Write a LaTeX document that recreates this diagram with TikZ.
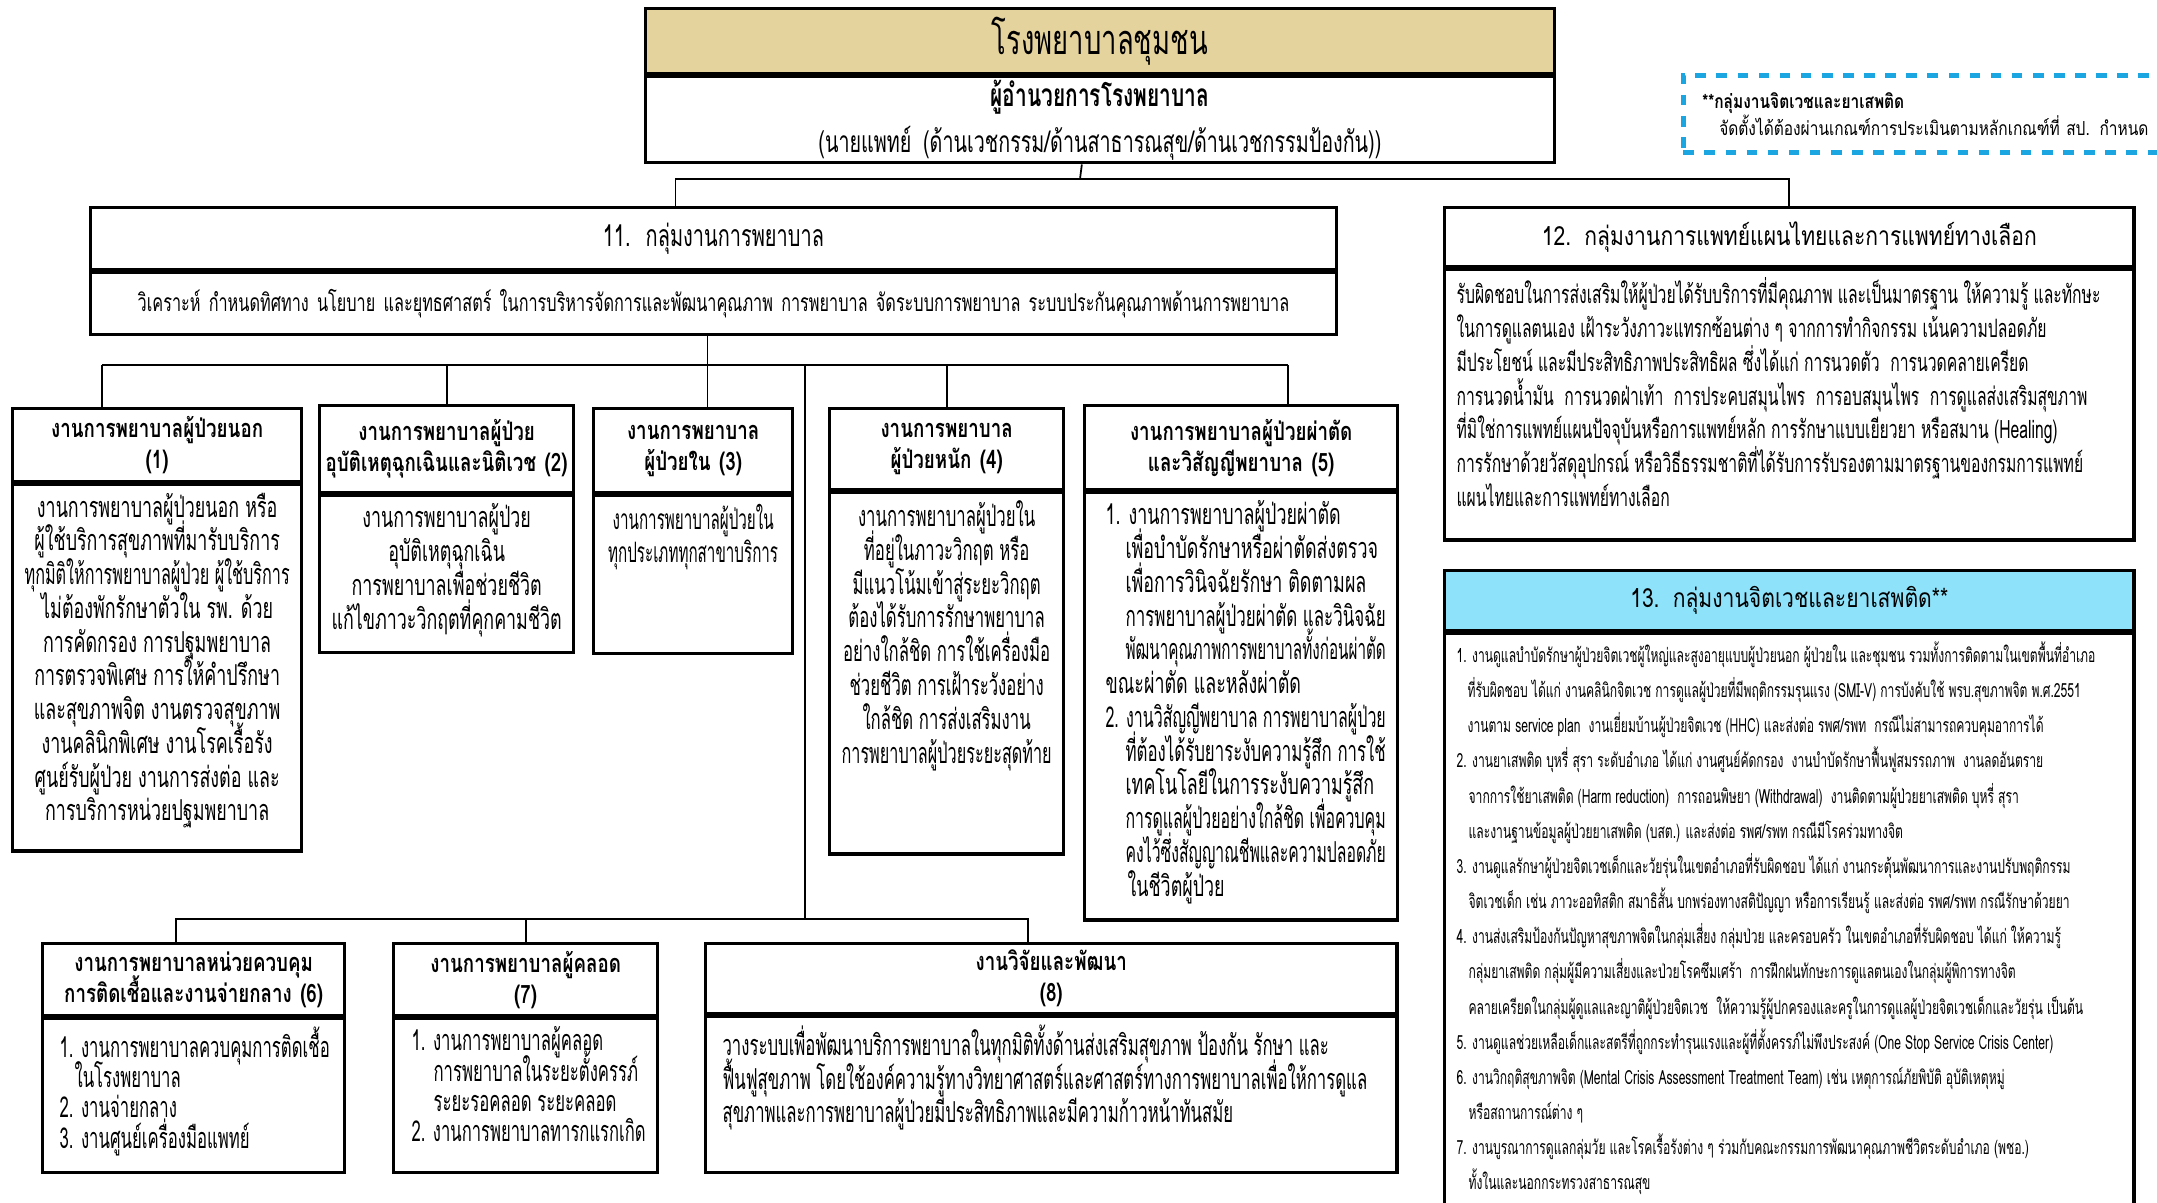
\documentclass[tikz,border=0pt]{standalone}
\usepackage{fontspec}
\usepackage{graphicx}
\newfontfamily\thaiA[Script=Thai,FakeStretch=0.62]{Loma}
\newfontfamily\thaiB[Script=Thai,FakeStretch=0.54]{Loma}
\newfontfamily\thaiC[Script=Thai,FakeStretch=0.58]{Loma}
\newfontfamily\thaiD[Script=Thai,FakeStretch=0.66]{Loma}
\newfontfamily\thaiE[Script=Thai,FakeStretch=0.8]{Loma}
\newfontfamily\thaiH[Script=Thai,FakeStretch=0.74]{Loma}
\definecolor{hospitaltan}{HTML}{E5D39D}
\definecolor{psychblue}{HTML}{8EE2F9}
\definecolor{notedash}{HTML}{1BA6E2}
% keep the line pitch fixed even with stacked Thai marks
\newcommand{\fixpitch}{\lineskiplimit=-20pt\lineskip=0pt\relax}
\newcommand{\ftop}{\thaiD\fontsize{11.8}{14}\selectfont}
\newcommand{\fdir}{\thaiD\bfseries\fontsize{9}{11}\selectfont}
\newcommand{\fdirsub}{\thaiD\fontsize{8.5}{11}\selectfont}
\newcommand{\fgrp}{\thaiD\fontsize{8.6}{10}\selectfont}
\newcommand{\fgrpw}{\thaiE\fontsize{7.5}{9}\selectfont}
\newcommand{\fhdr}{\thaiH\bfseries\fontsize{7.2}{8.8}\selectfont\fixpitch}
\newcommand{\fbody}{\thaiA\fontsize{8.2}{9.6}\selectfont\fixpitch}
\newcommand{\fnarrow}{\thaiB\fontsize{8}{9.6}\selectfont\fixpitch}
\newcommand{\fcond}{\thaiC\fontsize{8.2}{9.6}\selectfont\fixpitch}
\newcommand{\flist}{\thaiC\fontsize{8.2}{8.6}\selectfont\fixpitch}
\newcommand{\fline}{\thaiD\fontsize{7}{9.6}\selectfont}
\newcommand{\fwide}{\thaiA\fontsize{7.2}{9.6}\selectfont\fixpitch}
\newcommand{\fsmall}{\thaiA\fontsize{5.55}{10}\selectfont\fixpitch}
\newcommand{\fnote}{\thaiE\fontsize{5.5}{7.6}\selectfont\fixpitch}
% one line of a box, squeezed sideways when it is too long
\newlength\tlw
\newsavebox\tlbox
\newcommand{\tline}[2]{\setlength\tlw{\linewidth}\addtolength\tlw{-#1}\hspace*{#1}%
  \sbox\tlbox{#2}\ifdim\wd\tlbox>\tlw\resizebox{\tlw}{\ht\tlbox}{\usebox\tlbox}\else\usebox\tlbox\fi}
\tikzset{
  hdr/.style={draw, line width=0.9pt, anchor=north west, inner sep=0pt, align=center},
  body/.style={draw, line width=0.9pt, anchor=north west, inner xsep=0.12cm, inner ysep=0.08cm},
  conn/.style={line width=0.5pt},
}
\begin{document}
\begin{tikzpicture}[x=0.01cm, y=-0.01cm]
\clip (0,0) rectangle (2157,1202);
% hospital director
\node[hdr, fill=hospitaltan, text width=9.08cm, minimum height=0.65cm, font=\ftop] (toph) at (644,7) {โรงพยาบาลชุมชน};
\node[hdr, text width=9.08cm, minimum height=0.86cm] (topb) at (toph.south west)
  {{\fdir ผู้อำนวยการโรงพยาบาล}\\[1pt]{\fdirsub (นายแพทย์ (ด้านเวชกรรม/ด้านสาธารณสุข/ด้านเวชกรรมป้องกัน))}};
% note
\node[draw=notedash, dashed, line width=1.3pt, anchor=north west, inner sep=0pt,
  text width=5cm, minimum height=0.77cm, align=left, font=\fnote] (note) at (1681,73)
  {\hspace*{0.19cm}{\bfseries **กลุ่มงานจิตเวชและยาเสพติด}\\\hspace*{0.36cm}จัดตั้งได้ต้องผ่านเกณฑ์การประเมินตามหลักเกณฑ์ที่ สป. กำหนด};
% group 11
\node[hdr, text width=12.45cm, minimum height=0.62cm, font=\fgrp] (b11h) at (89,206) {11. กลุ่มงานการพยาบาล};
\node[hdr, text width=12.45cm, minimum height=0.62cm, font=\fline] (b11) at (b11h.south west)
  {วิเคราะห์ กำหนดทิศทาง นโยบาย และยุทธศาสตร์ ในการบริหารจัดการและพัฒนาคุณภาพ การพยาบาล จัดระบบการพยาบาล ระบบประกันคุณภาพด้านการพยาบาล};
% group 12
\node[hdr, text width=6.89cm, minimum height=0.59cm, font=\fgrpw] (b12h) at (1443,206) {12. กลุ่มงานการแพทย์แผนไทยและการแพทย์ทางเลือก};
\node[body] (b12) at (b12h.south west) {\parbox[t][2.54cm][t]{6.65cm}{\raggedright\fwide
  รับผิดชอบในการส่งเสริมให้ผู้ป่วยได้รับบริการที่มีคุณภาพ และเป็นมาตรฐาน ให้ความรู้ และทักษะ\\
  ในการดูแลตนเอง เฝ้าระวังภาวะแทรกซ้อนต่าง ๆ จากการทำกิจกรรม เน้นความปลอดภัย\\
  มีประโยชน์ และมีประสิทธิภาพประสิทธิผล ซึ่งได้แก่ การนวดตัว\ \ การนวดคลายเครียด\\
  การนวดน้ำมัน\ \ การนวดฝ่าเท้า\ \ การประคบสมุนไพร\ \ การอบสมุนไพร\ \ การดูแลส่งเสริมสุขภาพ\\
  ที่มิใช่การแพทย์แผนปัจจุบันหรือการแพทย์หลัก การรักษาแบบเยียวยา หรือสมาน (Healing)\\
  การรักษาด้วยวัสดุอุปกรณ์ หรือวิธีธรรมชาติที่ได้รับการรับรองตามมาตรฐานของกรมการแพทย์\\
  แผนไทยและการแพทย์ทางเลือก}};
% group 13
\node[hdr, fill=psychblue, text width=6.89cm, minimum height=0.60cm, font=\fgrpw] (b13h) at (1443,569) {13. กลุ่มงานจิตเวชและยาเสพติด**};
\node[body] (b13) at (b13h.south west) {\parbox[t][6.0cm][t]{6.65cm}{\raggedright\fsmall
  1. งานดูแลบำบัดรักษาผู้ป่วยจิตเวชผู้ใหญ่และสูงอายุแบบผู้ป่วยนอก ผู้ป่วยใน และชุมชน รวมทั้งการติดตามในเขตพื้นที่อำเภอ\\
  \hspace*{0.11cm}ที่รับผิดชอบ ได้แก่ งานคลินิกจิตเวช การดูแลผู้ป่วยที่มีพฤติกรรมรุนแรง (SMI-V) การบังคับใช้ พรบ.สุขภาพจิต พ.ศ.2551\\
  \hspace*{0.11cm}งานตาม service plan\ \ งานเยี่ยมบ้านผู้ป่วยจิตเวช (HHC) และส่งต่อ รพศ/รพท\ \ กรณีไม่สามารถควบคุมอาการได้\\
  2. งานยาเสพติด บุหรี่ สุรา ระดับอำเภอ ได้แก่ งานศูนย์คัดกรอง\ \ งานบำบัดรักษาฟื้นฟูสมรรถภาพ\ \ งานลดอันตราย\\
  \hspace*{0.12cm}จากการใช้ยาเสพติด (Harm reduction)\ \ การถอนพิษยา (Withdrawal)\ \ งานติดตามผู้ป่วยยาเสพติด บุหรี่ สุรา\\
  \hspace*{0.12cm}และงานฐานข้อมูลผู้ป่วยยาเสพติด (บสต.) และส่งต่อ รพศ/รพท กรณีมีโรคร่วมทางจิต\\
  3. งานดูแลรักษาผู้ป่วยจิตเวชเด็กและวัยรุ่นในเขตอำเภอที่รับผิดชอบ ได้แก่ งานกระตุ้นพัฒนาการและงานปรับพฤติกรรม\\
  \hspace*{0.12cm}จิตเวชเด็ก เช่น ภาวะออทิสติก สมาธิสั้น บกพร่องทางสติปัญญา หรือการเรียนรู้ และส่งต่อ รพศ/รพท กรณีรักษาด้วยยา\\
  4. งานส่งเสริมป้องกันปัญหาสุขภาพจิตในกลุ่มเสี่ยง กลุ่มป่วย และครอบครัว ในเขตอำเภอที่รับผิดชอบ ได้แก่ ให้ความรู้\\
  \hspace*{0.12cm}กลุ่มยาเสพติด กลุ่มผู้มีความเสี่ยงและป่วยโรคซึมเศร้า\ \ การฝึกฝนทักษะการดูแลตนเองในกลุ่มผู้พิการทางจิต\\
  \hspace*{0.12cm}คลายเครียดในกลุ่มผู้ดูแลและญาติผู้ป่วยจิตเวช\ \ ให้ความรู้ผู้ปกครองและครูในการดูแลผู้ป่วยจิตเวชเด็กและวัยรุ่น เป็นต้น\\
  5. งานดูแลช่วยเหลือเด็กและสตรีที่ถูกกระทำรุนแรงและผู้ที่ตั้งครรภ์ไม่พึงประสงค์ (One Stop Service Crisis Center)\\
  6. งานวิกฤติสุขภาพจิต (Mental Crisis Assessment Treatment Team) เช่น เหตุการณ์ภัยพิบัติ อุบัติเหตุหมู่\\
  \hspace*{0.12cm}หรือสถานการณ์ต่าง ๆ\\
  7. งานบูรณาการดูแลกลุ่มวัย และโรคเรื้อรังต่าง ๆ ร่วมกับคณะกรรมการพัฒนาคุณภาพชีวิตระดับอำเภอ (พชอ.)\\
  \hspace*{0.12cm}ทั้งในและนอกกระทรวงสาธารณสุข}};
% nursing units, upper row
\node[hdr, text width=2.89cm, minimum height=0.73cm, font=\fhdr] (b1h) at (11,407) {งานการพยาบาลผู้ป่วยนอก\\(1)};
\node[body] (b1) at (b1h.south west) {\parbox[t][3.50cm][t]{2.65cm}{\centering\fbody
  งานการพยาบาลผู้ป่วยนอก หรือ\\ผู้ใช้บริการสุขภาพที่มารับบริการ\\\tline{0pt}{ทุกมิติให้การพยาบาลผู้ป่วย ผู้ใช้บริการ}\\
  ไม่ต้องพักรักษาตัวใน รพ. ด้วย\\การคัดกรอง การปฐมพยาบาล\\การตรวจพิเศษ การให้คำปรึกษา\\
  และสุขภาพจิต งานตรวจสุขภาพ\\งานคลินิกพิเศษ งานโรคเรื้อรัง\\\tline{0pt}{ศูนย์รับผู้ป่วย งานการส่งต่อ และ}\\
  การบริการหน่วยปฐมพยาบาล}};
\node[hdr, text width=2.54cm, minimum height=0.87cm, font=\fhdr] (b2h) at (318,404) {งานการพยาบาลผู้ป่วย\\อุบัติเหตุฉุกเฉินและนิติเวช (2)};
\node[body] (b2) at (b2h.south west) {\parbox[t][1.41cm][t]{2.30cm}{\centering\fbody
  งานการพยาบาลผู้ป่วย\\อุบัติเหตุฉุกเฉิน\\การพยาบาลเพื่อช่วยชีวิต\\\tline{0pt}{แก้ไขภาวะวิกฤตที่คุกคามชีวิต}}};
\node[hdr, text width=1.99cm, minimum height=0.84cm, font=\fhdr] (b3h) at (592,407) {งานการพยาบาล\\ผู้ป่วยใน (3)};
\node[body] (b3) at (b3h.south west) {\parbox[t][1.42cm][t]{1.75cm}{\centering\fnarrow
  \tline{0pt}{งานการพยาบาลผู้ป่วยใน}\\\tline{0pt}{ทุกประเภททุกสาขาบริการ}}};
\node[hdr, text width=2.34cm, minimum height=0.81cm, font=\fhdr] (b4h) at (828,407) {งานการพยาบาล\\ผู้ป่วยหนัก (4)};
\node[body] (b4) at (b4h.south west) {\parbox[t][3.45cm][t]{2.10cm}{\centering\fcond
  งานการพยาบาลผู้ป่วยใน\\ที่อยู่ในภาวะวิกฤต หรือ\\มีแนวโน้มเข้าสู่ระยะวิกฤต\\\tline{0pt}{ต้องได้รับการรักษาพยาบาล}\\
  \tline{0pt}{อย่างใกล้ชิด การใช้เครื่องมือ}\\\tline{0pt}{ช่วยชีวิต การเฝ้าระวังอย่าง}\\ใกล้ชิด การส่งเสริมงาน\\\tline{0pt}{การพยาบาลผู้ป่วยระยะสุดท้าย}}};
\node[hdr, text width=3.13cm, minimum height=0.84cm, font=\fhdr] (b5h) at (1083,404) {งานการพยาบาลผู้ป่วยผ่าตัด\\และวิสัญญีพยาบาล (5)};
\node[body] (b5) at (b5h.south west) {\parbox[t][4.11cm][t]{2.89cm}{\raggedright\fbody
  \tline{0.09cm}{1. งานการพยาบาลผู้ป่วยผ่าตัด}\\
  \tline{0.29cm}{เพื่อบำบัดรักษาหรือผ่าตัดส่งตรวจ}\\
  \tline{0.29cm}{เพื่อการวินิจฉัยรักษา ติดตามผล}\\
  \tline{0.29cm}{การพยาบาลผู้ป่วยผ่าตัด และวินิจฉัย}\\
  \tline{0.29cm}{พัฒนาคุณภาพการพยาบาลทั้งก่อนผ่าตัด}\\
  \tline{0.09cm}{ขณะผ่าตัด และหลังผ่าตัด}\\
  \tline{0.09cm}{2. งานวิสัญญีพยาบาล การพยาบาลผู้ป่วย}\\
  \tline{0.29cm}{ที่ต้องได้รับยาระงับความรู้สึก การใช้}\\
  \tline{0.29cm}{เทคโนโลยีในการระงับความรู้สึก}\\
  \tline{0.29cm}{การดูแลผู้ป่วยอย่างใกล้ชิด เพื่อควบคุม}\\
  \tline{0.29cm}{คงไว้ซึ่งสัญญาณชีพและความปลอดภัย}\\
  \tline{0.31cm}{ในชีวิตผู้ป่วย}}};
% nursing units, lower row
\node[hdr, text width=3.02cm, minimum height=0.72cm, font=\fhdr] (b6h) at (41,942) {งานการพยาบาลหน่วยควบคุม\\การติดเชื้อและงานจ่ายกลาง (6)};
\node[body] (b6) at (b6h.south west) {\parbox[t][1.38cm][t]{2.78cm}{\raggedright\flist
  \tline{0.05cm}{1. งานการพยาบาลควบคุมการติดเชื้อ}\\\hspace*{0.2cm}ในโรงพยาบาล\\\hspace*{0.05cm}2. งานจ่ายกลาง\\\hspace*{0.05cm}3. งานศูนย์เครื่องมือแพทย์}};
\node[hdr, text width=2.64cm, minimum height=0.72cm, font=\fhdr] (b7h) at (392,942) {งานการพยาบาลผู้คลอด\\(7)};
\node[body] (b7) at (b7h.south west) {\parbox[t][1.38cm][t]{2.40cm}{\raggedright\flist
  \tline{0.06cm}{1. งานการพยาบาลผู้คลอด}\\\tline{0.28cm}{การพยาบาลในระยะตั้งครรภ์}\\\tline{0.28cm}{ระยะรอคลอด ระยะคลอด}\\\tline{0.06cm}{2. งานการพยาบาลทารกแรกเกิด}}};
\node[hdr, text width=6.91cm, minimum height=0.70cm, font=\fhdr] (b8h) at (704,942) {งานวิจัยและพัฒนา\\(8)};
\node[body] (b8) at (b8h.south west) {\parbox[t][1.40cm][t]{6.67cm}{\raggedright\fcond
  \tline{0.05cm}{วางระบบเพื่อพัฒนาบริการพยาบาลในทุกมิติทั้งด้านส่งเสริมสุขภาพ ป้องกัน รักษา และ}\\
  \tline{0.05cm}{ฟื้นฟูสุขภาพ โดยใช้องค์ความรู้ทางวิทยาศาสตร์และศาสตร์ทางการพยาบาลเพื่อให้การดูแล}\\
  \tline{0.05cm}{สุขภาพและการพยาบาลผู้ป่วยมีประสิทธิภาพและมีความก้าวหน้าทันสมัย}}};
% connectors
\coordinate (bus0) at (1080,179);
\coordinate (c11) at ([xshift=-0.06cm]b11.south);
\draw[conn] ([xshift=-0.18cm]topb.south) -- (bus0);
\draw[conn] ([xshift=-0.38cm]b11h.north) |- (bus0) -| (b12h.north);
\draw[conn] (c11) -- (c11 |- b3h.north);
\coordinate (d1) at (102,365);
\coordinate (d5) at (1288,365);
\coordinate (d0) at (805,365);
\coordinate (e0) at (805,919);
\coordinate (e6) at (176,919);
\coordinate (e8) at (1028,919);
\draw[conn] (d1) -- (d5);
\draw[conn] (d1) -- (d1 |- b1h.north);
\draw[conn] (b2h.north) -- (b2h.north |- d1);
\draw[conn] (b4h.north) -- (b4h.north |- d1);
\draw[conn] (d5) -- (d5 |- b5h.north);
\draw[conn] (d0) -- (e0);
\draw[conn] (e6 |- b6h.north) -- (e6) -- (e8) -- (e8 |- b8h.north);
\draw[conn] (b7h.north) -- (b7h.north |- e0);
\end{tikzpicture}
\end{document}
